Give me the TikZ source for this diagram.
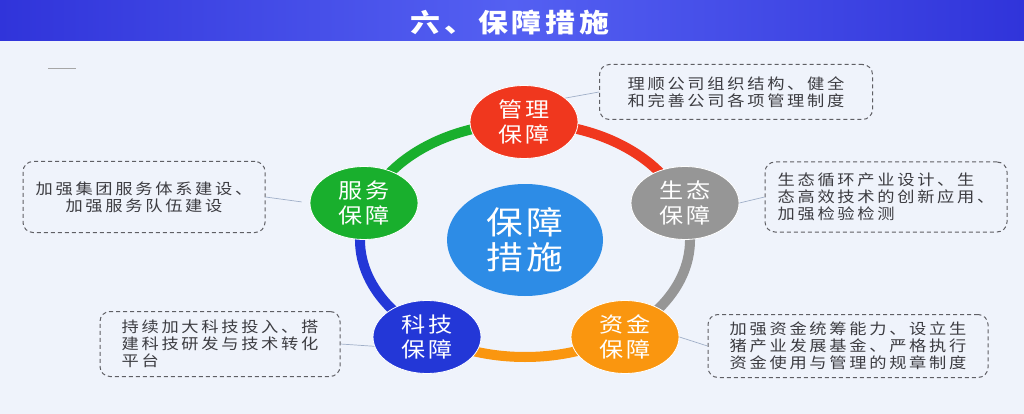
\documentclass[tikz,border=0pt]{standalone}
\usepackage{fontspec}
\usetikzlibrary{
	shapes.geometric,
	positioning,
	calc
}
\setmainfont{Noto Sans CJK SC}
\newfontfamily\titlefont[LetterSpace=15, FakeStretch=1.15]{Noto Sans CJK SC}
\newfontfamily\hubfont[LetterSpace=12, FakeStretch=1.15]{Noto Sans CJK SC}
\newfontfamily\partfont[LetterSpace=17, FakeStretch=1.15]{Noto Sans CJK SC}
\newfontfamily\notefont[LetterSpace=18, FakeStretch=1.15]{Noto Sans CJK SC}
\definecolor{PageBg}{RGB}{239,243,251}
\definecolor{BarDark}{RGB}{48,52,218}
\definecolor{BarLight}{RGB}{84,96,242}
\definecolor{HubBlue}{RGB}{45,140,230}
\definecolor{PartRed}{RGB}{240,55,30}
\definecolor{PartGray}{RGB}{150,150,150}
\definecolor{PartOrange}{RGB}{250,150,15}
\definecolor{PartBlue}{RGB}{35,55,215}
\definecolor{PartGreen}{RGB}{25,175,45}
\definecolor{NoteLine}{RGB}{95,95,100}
\definecolor{NoteText}{RGB}{60,60,65}
\definecolor{LinkGray}{RGB}{160,175,200}

\begin{document}
\begin{tikzpicture}[x=1pt, y=-1pt,
	hub/.style={ellipse, fill=HubBlue, text=white, inner sep=0pt,
		minimum width=156pt, minimum height=112pt, align=center,
		font=\hubfont\fontsize{32}{35}\selectfont},
	part/.style={ellipse, draw=white, line width=0.8pt, text=white, inner sep=0pt,
		minimum width=108pt, minimum height=73pt, align=center,
		font=\partfont\fontsize{21}{25}\selectfont},
	note/.style={draw=NoteLine, dash pattern=on 4pt off 3pt, line width=1pt,
		rounded corners=10pt, text=NoteText, inner sep=0pt,
		font=\notefont\fontsize{15}{17}\selectfont},
	ring/.style={line width=10pt},
	link/.style={draw=LinkGray, line width=0.7pt}
]
	% 背景与标题栏
	\fill[PageBg] (0,0) rectangle (1024,414);
	\useasboundingbox (0,0) rectangle (1024,414);
	\shade[left color=BarDark, right color=BarDark, middle color=BarLight] (0,0) rectangle (1024,41);
	\node[text=white, font=\titlefont\bfseries\fontsize{26}{28}\selectfont] (title) at (510,22) {六、保障措施};
	\draw[gray!70, line width=0.8pt] (48,68) -- (76,68);
	
	% 外圈 五段彩色圆环
	\coordinate (O) at (525,240);
	\foreach \a/\b/\c in {270/342/PartRed, 342/414/PartGray, 54/126/PartOrange, 126/198/PartBlue, 198/270/PartGreen}
		\draw[ring, \c, shift={(O)}] (\a:165 and 117) arc[start angle=\a, end angle=\b, x radius=165, y radius=117];
	
	% 中心
	\node[hub] (hub) at (O) {保障\\措施};
	
	% 五个保障
	\node[part, fill=PartRed] (mgmt) at (524,122) {管理\\保障};
	\node[part, fill=PartGray] (eco) at (685,203) {生态\\保障};
	\node[part, fill=PartOrange] (fund) at (625,337) {资金\\保障};
	\node[part, fill=PartBlue] (tech) at (427,337) {科技\\保障};
	\node[part, fill=PartGreen] (serv) at (364,203) {服务\\保障};
	
	% 说明框
	\node[note, minimum width=273pt, minimum height=55pt, align=center] (n-mgmt) at (736,92)
		{理顺公司组织结构、健全\\和完善公司各项管理制度};
	\node[note, minimum width=242pt, minimum height=70pt, align=left] (n-eco) at (886,197)
		{生态循环产业设计、生\\态高效技术的创新应用、\\加强检验检测};
	\node[note, minimum width=280pt, minimum height=63pt, align=left] (n-fund) at (848,346)
		{加强资金统筹能力、设立生\\猪产业发展基金、严格执行\\资金使用与管理的规章制度};
	\node[note, minimum width=240pt, minimum height=65pt, align=left] (n-tech) at (220,344)
		{持续加大科技投入、搭\\建科技研发与技术转化\\平台};
	\node[note, minimum width=242pt, minimum height=71pt, align=center] (n-serv) at (144,197)
		{加强集团服务体系建设、\\加强服务队伍建设};
	
	% 连线
	\draw[link] (mgmt.30) -- (n-mgmt.west);
	\draw[link] (eco.east) -- (n-eco.west);
	\draw[link] (fund.east) -- (n-fund.west);
	\draw[link] (n-tech.east) -- (tech.190);
	\draw[link, shorten >=8pt] (n-serv.east) -- (serv.west);
\end{tikzpicture}
\end{document}
